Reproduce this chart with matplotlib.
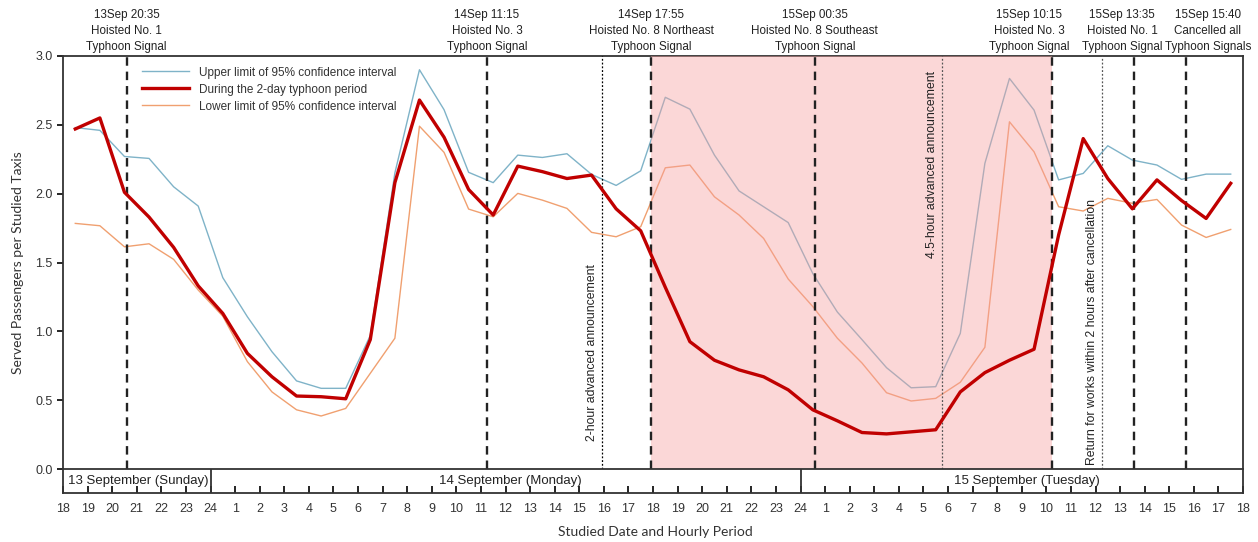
import numpy as np
import matplotlib
matplotlib.use("Agg")
import matplotlib.pyplot as plt

# hourly points, hours counted from 13 Sep 18:00, plotted at mid-hour
mid_hours = np.arange(0.5, 48, 1.0)

upper = [2.48, 2.46, 2.27, 2.256, 2.05, 1.91, 1.39, 1.106, 0.852, 0.64, 0.586, 0.586,
         0.97, 2.15, 2.90, 2.61, 2.155, 2.08, 2.28, 2.263, 2.29, 2.14, 2.06, 2.166,
         2.70, 2.614, 2.28, 2.02, 1.905, 1.79, 1.42, 1.14, 0.94, 0.736, 0.59, 0.598,
         0.985, 2.22, 2.837, 2.607, 2.10, 2.147, 2.348, 2.244, 2.208, 2.104, 2.142, 2.142]
typhoon = [2.47, 2.55, 2.01, 1.83, 1.61, 1.33, 1.13, 0.84, 0.67, 0.53, 0.525, 0.51,
           0.94, 2.08, 2.68, 2.41, 2.03, 1.845, 2.20, 2.16, 2.11, 2.135, 1.89, 1.73,
           1.32, 0.925, 0.79, 0.72, 0.67, 0.575, 0.43, 0.35, 0.265, 0.255, 0.27, 0.285,
           0.56, 0.70, 0.79, 0.87, 1.70, 2.40, 2.11, 1.89, 2.10, 1.95, 1.82, 2.075]
lower = [1.784, 1.767, 1.614, 1.636, 1.523, 1.30, 1.11, 0.78, 0.56, 0.43, 0.385, 0.44,
         0.695, 0.95, 2.49, 2.30, 1.888, 1.832, 2.002, 1.953, 1.893, 1.719, 1.687, 1.76,
         2.188, 2.208, 1.977, 1.845, 1.675, 1.38, 1.18, 0.95, 0.77, 0.554, 0.494, 0.513,
         0.63, 0.884, 2.522, 2.304, 1.905, 1.874, 1.966, 1.93, 1.958, 1.772, 1.682, 1.74]

tick_labels = [str(h) for h in range(18, 25)] + [str(h) for h in range(1, 25)] + \
              [str(h) for h in range(1, 19)]

# typhoon signal events: (day, time, text)
signals = [
    (13, "20:35", "13Sep 20:35\nHoisted No. 1\nTyphoon Signal"),
    (14, "11:15", "14Sep 11:15\nHoisted No. 3\nTyphoon Signal"),
    (14, "17:55", "14Sep 17:55\nHoisted No. 8 Northeast\nTyphoon Signal"),
    (15, "00:35", "15Sep 00:35\nHoisted No. 8 Southeast\nTyphoon Signal"),
    (15, "10:15", "15Sep 10:15\nHoisted No. 3\nTyphoon Signal"),
    (15, "13:35", "15Sep 13:35\nHoisted No. 1\nTyphoon Signal"),
    (15, "15:40", "15Sep 15:40\nCancelled all\nTyphoon Signals"),
]
label_shift = [0, 0, 0, 0, -0.95, -0.5, 0.9]   # small nudges of the header texts

# dotted announcement lines: (day, time, text, colour, y of text bottom)
notes = [
    (14, "15:55", "2-hour advanced announcement", "black", 0.2),
    (15, "05:45", "4.5-hour advanced announcement", "#555555", 1.53),
    (15, "12:15", "Return for works within 2 hours after cancellation", "#555555", 0.03),
]

days = [(0, 6, "13 September (Sunday)"), (6, 30, "14 September (Monday)"),
        (30, 48, "15 September (Tuesday)")]


def to_hours(day, hhmm):
    h, m = hhmm.split(":")
    return (day - 13) * 24 + int(h) + int(m) / 60 - 18


plt.rcParams["font.family"] = ["Liberation Sans", "DejaVu Sans"]
fig = plt.figure(figsize=(12.58, 5.42), dpi=100)
ax = fig.add_axes([63 / 1258, 1 - 469 / 542, 1180 / 1258, 413 / 542])
band = fig.add_axes([63 / 1258, 1 - 493 / 542, 1180 / 1258, 24 / 542])

t_start = to_hours(*signals[2][:2])
t_end = to_hours(*signals[4][:2])

ax.plot(mid_hours, upper, color="#7fb3c8", lw=1.0, zorder=2,
        label="Upper limit of 95% confidence interval")
ax.plot(mid_hours, typhoon, color="#c00000", lw=2.4, zorder=5,
        label="During the 2-day typhoon period")
ax.plot(mid_hours, lower, color="#f0a070", lw=1.0, zorder=2,
        label="Lower limit of 95% confidence interval")
ax.axvspan(t_start, t_end, color="#f7a0a0", alpha=0.42, lw=0, zorder=3)

for (d, t, txt), dx in zip(signals, label_shift):
    x = to_hours(d, t)
    ax.axvline(x, color="#222222", lw=1.7, dashes=(3.6, 2.5), zorder=4)
    ax.text(x + dx, 3.025, txt, ha="center", va="bottom", fontsize=8.4,
            color="#222222", linespacing=1.4)

for d, t, txt, c, yb in notes:
    x = to_hours(d, t)
    ax.axvline(x, color=c, lw=0.9, ls=(0, (1.5, 1.5)), zorder=4)
    ax.text(x - 0.15, yb, txt, rotation=90, ha="right", va="bottom", fontsize=8.8,
            color="#222222")

ax.set_xlim(0, 48)
ax.set_ylim(0, 3.0)
ax.set_yticks(np.arange(0, 3.01, 0.5))
ax.set_yticklabels([f"{v:.1f}" for v in np.arange(0, 3.01, 0.5)], fontsize=9, color="#333333")
ax.set_xticks([])
ax.spines["bottom"].set_visible(False)
ax.tick_params(axis="y", direction="out", length=4, width=1.2)
for s in ("left", "top", "right"):
    ax.spines[s].set_linewidth(1.3)
    ax.spines[s].set_color("#333333")
ax.set_ylabel("Served Passengers per Studied Taxis", fontsize=10, family="Lato",
              color="#333333", labelpad=8)

leg = ax.legend(loc="upper left", bbox_to_anchor=(0.058, 1.0), frameon=False,
                fontsize=8.5, handlelength=4.0, labelspacing=0.42)
for t in leg.get_texts():
    t.set_color("#333333")

band.set_xlim(0, 48)
band.set_ylim(0, 1)
band.set_yticks([])
band.set_xticks(range(49))
band.set_xticklabels(tick_labels, fontsize=9, color="#333333")
band.tick_params(axis="x", direction="in", length=5, width=1.2, pad=7)
for s in band.spines.values():
    s.set_linewidth(1.3)
    s.set_color("#333333")
for x0, x1, txt in days:
    if x0 > 0:
        band.axvline(x0, color="#333333", lw=1.3)
    if x0 == 0:
        band.text(x0 + 0.2, 0.5, txt, ha="left", va="center", fontsize=9.5, color="#222222")
    else:
        band.text((x0 + x1) / 2 + 0.2, 0.5, txt, ha="center", va="center",
                  fontsize=9.5, color="#222222")

fig.text(655 / 1258, 1 - 532 / 542, "Studied Date and Hourly Period", ha="center",
         va="center", fontsize=10, family="Lato", color="#333333")

fig.savefig("out.png", dpi=100)
